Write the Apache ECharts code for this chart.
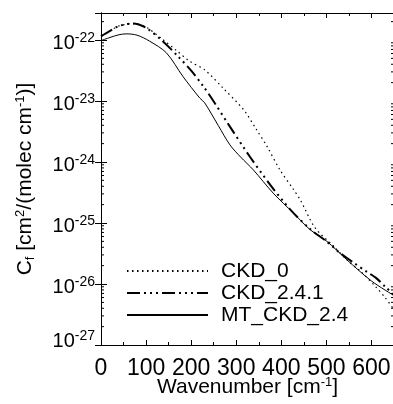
<!DOCTYPE html>
<html>
<head>
<meta charset="utf-8">
<script src="https://cdn.jsdelivr.net/npm/echarts@6/dist/echarts.min.js"></script>
<style>
  html, body { margin: 0; padding: 0; background: #fff; }
  #chart { width: 393px; height: 404px; }
</style>
</head>
<body>
<div id="chart"></div>
<script>
// ---- data ----
// C_f values are stored in units of 1e-27 cm^2/(molec cm^-1)
var UNIT_EXP = -27;
var seriesNames = ['CKD_0', 'CKD_2.4.1', 'MT_CKD_2.4'];

var ckd0Wn  = [0, 20, 40, 71, 100, 137, 167, 197, 230, 271, 316, 345, 368, 397, 427, 442, 475, 516, 545, 580, 610, 630, 650];
var ckd0Val = [1.15e5, 1.41e5, 1.70e5, 1.86e5, 1.62e5, 1.02e5, 6.76e4, 4.47e4, 3.24e4, 1.62e4, 7.24e3, 3.39e3, 1.82e3, 741, 355, 240, 83.2, 41.7, 25.1, 15.1, 8.91, 6.03, 3.80];

var ckd241Wn  = [0, 20, 40, 71, 100, 137, 171, 201, 227, 245, 286, 330, 375, 420, 464, 500, 530, 560, 590, 610, 630, 650];
var ckd241Val = [1.15e5, 1.41e5, 1.70e5, 1.86e5, 1.58e5, 9.55e4, 5.37e4, 3.09e4, 1.74e4, 1.12e4, 3.80e3, 1.23e3, 427, 166, 79.4, 50.1, 32.4, 22.4, 15.8, 12.6, 9.12, 6.61];

var mtWn  = [0, 20, 40, 56, 80, 108, 145, 182, 219, 230, 260, 286, 310, 338, 382, 427, 464, 501, 545, 600, 650];
var mtVal = [9.77e4, 1.10e5, 1.22e5, 1.26e5, 1.20e5, 9.55e4, 6.17e4, 2.51e4, 1.12e4, 9.33e3, 3.98e3, 1.91e3, 1.20e3, 741, 309, 145, 77.6, 50.1, 25.1, 11.2, 6.46];

// axis ranges / ticks
var xMin = 0, xMax = 650, xInterval = 100;
var yMin = 1, yMax = 2.77e5;           // 1e-27 .. 2.77e-22
var minorMantissas = [2, 3, 4, 5, 6, 7, 8, 9];
var minorDecades = [1, 10, 100, 1000, 10000, 100000];

// ---- build ----
function pairs(xs, ys) { return xs.map(function (x, i) { return [x, ys[i]]; }); }
var minorVals = [];
minorDecades.forEach(function (d) {
  minorMantissas.forEach(function (m) {
    var v = m * d;
    if (v < yMax) minorVals.push([xMin, v]);
  });
});

var FONT = "'Liberation Sans', Arial, Helvetica, sans-serif";
var NARROW = "'Liberation Sans Narrow', 'Liberation Sans', Arial, sans-serif";
var chart = echarts.init(document.getElementById('chart'), null, { renderer: 'canvas' });

var axisLineStyle = { color: '#000', width: 1 };
var option = {
  animation: false,
  backgroundColor: '#fff',
  textStyle: { fontFamily: FONT, color: '#000' },
  grid: { left: 101, top: 13, right: -1, bottom: 59, containLabel: false, outerBoundsMode: 'none' },
  legend: {
    data: seriesNames, orient: 'vertical', left: 126, top: 260, padding: 0,
    itemWidth: 81, itemHeight: 14, itemGap: 0, selectedMode: false,
    itemStyle: { opacity: 0 },
    textStyle: { fontFamily: FONT, fontSize: 21, color: '#000', lineHeight: 22, padding: [0, 0, 0, 8] }
  },
  xAxis: [{
    type: 'value', min: xMin, max: xMax, interval: xInterval, position: 'bottom',
    name: 'Wavenumber [cm{sup|-1}]', nameLocation: 'middle', nameGap: 31, nameMoveOverlap: false,
    nameTextStyle: { fontFamily: FONT, fontSize: 21, color: '#000',
      rich: { sup: { fontFamily: FONT, fontSize: 13, verticalAlign: 'top', padding: [0, 0, 10, 0] } } },
    axisLine: { show: true, lineStyle: axisLineStyle },
    axisTick: { show: true, inside: true, length: 5, lineStyle: axisLineStyle },
    minorTick: { show: true, splitNumber: 2, length: 3, lineStyle: axisLineStyle },
    splitLine: { show: false },
    axisLabel: { fontFamily: NARROW, fontSize: 23, color: '#000', margin: 12, showMaxLabel: false }
  }, {
    type: 'value', min: xMin, max: xMax, interval: xInterval, position: 'top',
    axisLine: { show: true, lineStyle: axisLineStyle },
    axisTick: { show: true, inside: true, length: 5, lineStyle: axisLineStyle },
    minorTick: { show: true, splitNumber: 2, length: 3, lineStyle: axisLineStyle },
    splitLine: { show: false }, axisLabel: { show: false }
  }],
  yAxis: [{
    type: 'log', logBase: 10, min: yMin, max: yMax, position: 'left',
    name: 'C{sub|f} [cm{sup|2}/(molec cm{sup|-1})]', nameLocation: 'middle', nameGap: 64, nameRotate: 90,
    nameTextStyle: { fontFamily: FONT, fontSize: 21, color: '#000',
      rich: {
        sup: { fontFamily: FONT, fontSize: 13, verticalAlign: 'top', padding: [0, 0, 10, 0] },
        sub: { fontFamily: FONT, fontSize: 13, verticalAlign: 'bottom', padding: [10, 0, 0, 0] }
      } },
    axisLine: { show: true, lineStyle: axisLineStyle },
    axisTick: { show: true, inside: true, length: 6, lineStyle: axisLineStyle },
    splitLine: { show: false },
    axisLabel: {
      fontFamily: FONT, fontSize: 20, color: '#000', margin: 6, showMaxLabel: false,
      padding: [6, 0, 0, 0],
      formatter: function (v) {
        var e = Math.round(Math.log(v) / Math.LN10) + UNIT_EXP;
        var s = '10{sup|' + e + '}';
        if (v <= yMin * 1.0001) s += '\n{gap| }';
        return s;
      },
      rich: {
        sup: { fontFamily: FONT, fontSize: 14, verticalAlign: 'top', padding: [0, 0, 9, 0] },
        gap: { fontSize: 4, lineHeight: 14 }
      }
    }
  }, {
    type: 'log', logBase: 10, min: yMin, max: yMax, position: 'right',
    axisLine: { show: true, lineStyle: axisLineStyle },
    axisTick: { show: true, inside: true, length: 6, lineStyle: axisLineStyle },
    splitLine: { show: false }, axisLabel: { show: false }
  }],
  series: [{
    name: 'CKD_0', type: 'line', data: pairs(ckd0Wn, ckd0Val), showSymbol: false, symbol: 'none', smooth: 0.3,
    lineStyle: { color: '#000', width: 1.2, type: [1.5, 3.5] }, itemStyle: { color: '#000' }
  }, {
    name: 'CKD_2.4.1', type: 'line', data: pairs(ckd241Wn, ckd241Val), showSymbol: false, symbol: 'none', smooth: 0.3,
    lineStyle: { color: '#000', width: 2, type: [13, 4, 2, 4, 2, 4, 2, 4] }, itemStyle: { color: '#000' }
  }, {
    name: 'MT_CKD_2.4', type: 'line', data: pairs(mtWn, mtVal), showSymbol: false, symbol: 'none', smooth: 0.3,
    lineStyle: { color: '#000', width: 1 }, itemStyle: { color: '#000' }
  }, {
    name: 'minorTicks', type: 'custom', silent: true, clip: false, z: 10, data: minorVals,
    renderItem: function (params, api) {
      var v = api.value(1);
      var pl = api.coord([xMin, v]);
      var pr = api.coord([xMax, v]);
      return { type: 'group', children: [
        { type: 'line', shape: { x1: pl[0], y1: pl[1], x2: pl[0] + 3, y2: pl[1] }, style: { stroke: '#000', lineWidth: 1 } },
        { type: 'line', shape: { x1: pr[0], y1: pr[1], x2: pr[0] - 3, y2: pr[1] }, style: { stroke: '#000', lineWidth: 1 } }
      ] };
    }
  }]
};
chart.setOption(option);
</script>
</body>
</html>
